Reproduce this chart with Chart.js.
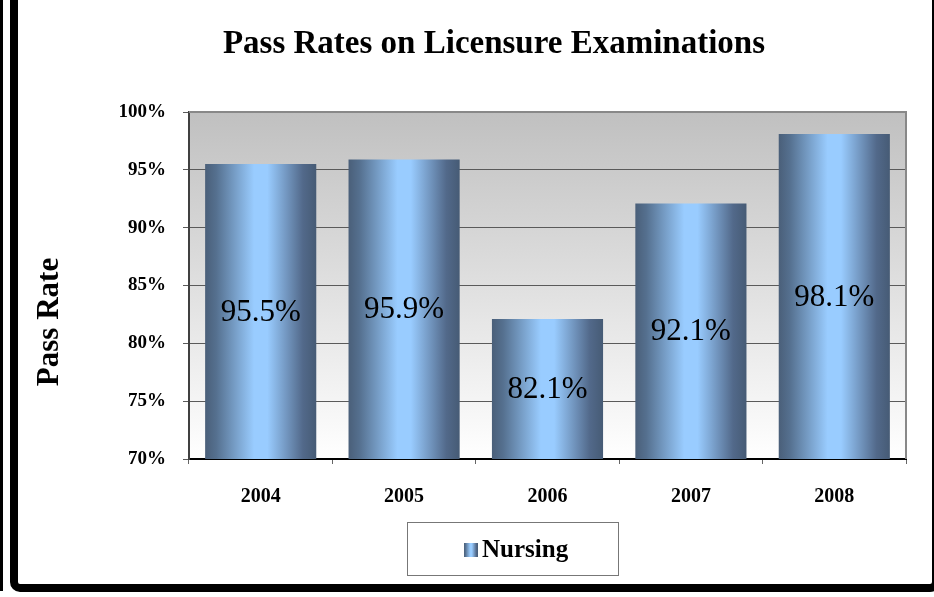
<!DOCTYPE html>
<html>
<head>
<meta charset="utf-8">
<title>Pass Rates on Licensure Examinations</title>
<script src="https://cdn.jsdelivr.net/npm/chart.js@4.4.1/dist/chart.umd.min.js"></script>
<style>
  html, body { margin: 0; padding: 0; background: #fff; }
  canvas { display: block; }
</style>
</head>
<body>
<canvas id="grafico" width="934" height="597"></canvas>
<script>
// Datos
const years = ['2004', '2005', '2006', '2007', '2008'];
const nursingRates = [95.5, 95.9, 82.1, 92.1, 98.1];
const rateTicks = [70, 75, 80, 85, 90, 95, 100];
const seriesName = 'Nursing';
const chartTitle = 'Pass Rates on Licensure Examinations';
const axisTitle = 'Pass Rate';

const SERIF = '"Liberation Serif", "Times New Roman", serif';

// Degradado horizontal tipo "cilindro" de Excel
function cylinderGradient(ctx, x0, x1) {
  const g = ctx.createLinearGradient(x0, 0, x1, 0);
  g.addColorStop(0, '#4a5f79');
  g.addColorStop(0.1, '#55708f');
  g.addColorStop(0.44, '#99ccff');
  g.addColorStop(0.56, '#99ccff');
  g.addColorStop(0.88, '#52698a');
  g.addColorStop(1, '#465b75');
  return g;
}

function barColor(context) {
  const chart = context.chart;
  const xs = chart.scales.x;
  if (!chart.chartArea || !xs) return '#7fa8d8';
  const cw = xs.width / years.length;
  const w = cw * 0.775;
  const cx = xs.getPixelForValue(context.dataIndex);
  return cylinderGradient(chart.ctx, cx - w / 2, cx + w / 2);
}

// Fondo del área de trazado, marco exterior, título, leyenda y etiquetas
const decoraciones = {
  id: 'decoraciones',
  beforeDraw(chart) {
    const { ctx, chartArea: a } = chart;
    ctx.save();
    const bg = ctx.createLinearGradient(0, a.top, 0, a.bottom);
    bg.addColorStop(0, '#c0c0c0');
    bg.addColorStop(1, '#ffffff');
    ctx.fillStyle = bg;
    ctx.fillRect(a.left, a.top, a.right - a.left, a.bottom - a.top);
    ctx.restore();
  },
  afterDraw(chart) {
    const { ctx, chartArea: a } = chart;
    const xs = chart.scales.x;
    const ys = chart.scales.y;
    ctx.save();

    // etiquetas de valor en el centro de cada barra
    ctx.font = '31px ' + SERIF;
    ctx.fillStyle = '#000';
    ctx.textAlign = 'center';
    ctx.textBaseline = 'middle';
    nursingRates.forEach((v, i) => {
      const top = ys.getPixelForValue(v);
      const base = ys.getPixelForValue(ys.min);
      ctx.fillText(v.toFixed(1) + '%', xs.getPixelForValue(i), (top + base) / 2 + 1);
    });

    // borde superior y derecho del área de trazado
    ctx.strokeStyle = '#888';
    ctx.lineWidth = 2;
    ctx.beginPath();
    ctx.moveTo(a.left, a.top);
    ctx.lineTo(a.right, a.top);
    ctx.lineTo(a.right, a.bottom);
    ctx.stroke();

    // título
    ctx.fillStyle = '#000';
    ctx.font = 'bold 33px ' + SERIF;
    ctx.textAlign = 'center';
    ctx.textBaseline = 'alphabetic';
    ctx.fillText(chartTitle, 494, 53);

    // título del eje Y
    ctx.save();
    ctx.translate(58, 322);
    ctx.rotate(-Math.PI / 2);
    ctx.font = 'bold 31px ' + SERIF;
    ctx.textAlign = 'center';
    ctx.fillText(axisTitle, 0, 0);
    ctx.restore();

    // leyenda
    ctx.strokeStyle = '#777';
    ctx.lineWidth = 1;
    ctx.strokeRect(407.5, 522.5, 211, 53);
    ctx.fillStyle = cylinderGradient(ctx, 464, 478);
    ctx.fillRect(464, 543, 14, 14);
    ctx.fillStyle = '#000';
    ctx.font = 'bold 25px ' + SERIF;
    ctx.textAlign = 'left';
    ctx.fillText(seriesName, 482, 557);

    // marco exterior
    ctx.fillStyle = '#000';
    ctx.fillRect(0, 0, 3, 591);
    ctx.strokeStyle = '#000';
    ctx.lineWidth = 8;
    ctx.beginPath();
    ctx.roundRect(14, -30, 922, 618, 6);
    ctx.stroke();
    ctx.restore();
  }
};

new Chart(document.getElementById('grafico'), {
  type: 'bar',
  data: {
    labels: years,
    datasets: [{
      label: seriesName,
      data: nursingRates,
      backgroundColor: barColor,
      borderWidth: 0,
      categoryPercentage: 1,
      barPercentage: 0.775
    }]
  },
  options: {
    responsive: false,
    animation: false,
    devicePixelRatio: 1,
    layout: { padding: { left: 0, right: 28, top: 112, bottom: 78 } },
    plugins: {
      legend: { display: false },
      title: { display: false },
      tooltip: { enabled: false }
    },
    scales: {
      x: {
        afterFit(scale) { scale.height = 60; },
        grid: {
          offset: true,
          drawOnChartArea: false,
          drawTicks: true,
          tickLength: 5,
          color: '#666'
        },
        border: { display: true, color: '#000', width: 2 },
        ticks: {
          padding: 21,
          color: '#000',
          font: { family: SERIF, size: 20, weight: 'bold' }
        }
      },
      y: {
        min: rateTicks[0],
        max: rateTicks[rateTicks.length - 1],
        afterFit(scale) { scale.width = 189; },
        afterBuildTicks(scale) { scale.ticks = rateTicks.map(v => ({ value: v })); },
        grid: { color: '#5a5a5a', lineWidth: 1, tickLength: 6 },
        border: { display: true, color: '#404040', width: 2 },
        ticks: {
          padding: 17,
          color: '#000',
          font: { family: SERIF, size: 19, weight: 'bold' },
          callback: v => v + '%'
        }
      }
    }
  },
  plugins: [decoraciones]
});
</script>
</body>
</html>
